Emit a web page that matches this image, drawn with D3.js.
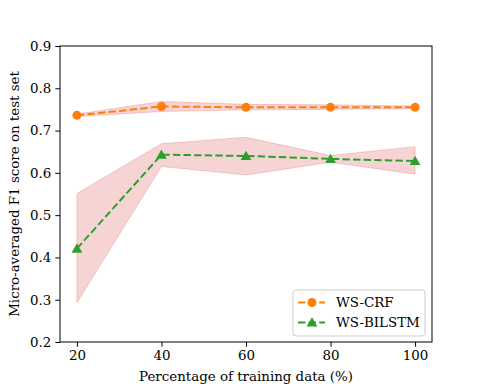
<!DOCTYPE html>
<html>
<head>
<meta charset="utf-8">
<script src="https://cdn.jsdelivr.net/npm/d3@7"></script>
<style>
  body { margin: 0; background: #fff; }
  text { font-family: "DejaVu Serif", serif; }
</style>
</head>
<body>
<div id="chart"></div>
<script>
// data
var trainPct = [20, 40, 60, 80, 100];
var crfMean = [0.736, 0.757, 0.755, 0.755, 0.755];
var crfLow = [0.733, 0.745, 0.749, 0.750, 0.752];
var crfHigh = [0.739, 0.769, 0.762, 0.761, 0.758];
var lstmMean = [0.421, 0.643, 0.640, 0.633, 0.628];
var lstmLow = [0.293, 0.615, 0.595, 0.625, 0.597];
var lstmHigh = [0.551, 0.669, 0.684, 0.641, 0.662];
var yTicks = [0.2, 0.3, 0.4, 0.5, 0.6, 0.7, 0.8, 0.9];
var seriesNames = ["WS-CRF", "WS-BILSTM"];

var width = 480, height = 384;
var margin = {top: 46, right: 48, bottom: 42, left: 60};
var fontSize = 13.4;

var svg = d3.select("#chart").append("svg")
  .attr("width", width)
  .attr("height", height);

var xScale = d3.scaleLinear()
  .domain([16, 104])
  .range([margin.left, width - margin.right]);

var yScale = d3.scaleLinear()
  .domain([0.2, 0.9])
  .range([height - margin.bottom, margin.top]);

function rows(mean, lo, hi) {
  return trainPct.map((x, i) => {
    return {x: x, y: mean[i], lo: lo[i], hi: hi[i]};
  });
}
var crf = rows(crfMean, crfLow, crfHigh);
var lstm = rows(lstmMean, lstmLow, lstmHigh);

var area = d3.area()
  .x((d) => xScale(d.x))
  .y0((d) => yScale(d.lo))
  .y1((d) => yScale(d.hi));

var line = d3.line()
  .x((d) => xScale(d.x))
  .y((d) => yScale(d.y));

[crf, lstm].forEach((s) => {
  svg.append("path")
    .datum(s)
    .attr("d", area)
    .attr("fill", "#d62728")
    .attr("fill-opacity", 0.2)
    .attr("stroke", "#d62728")
    .attr("stroke-opacity", 0.2)
    .attr("stroke-width", 1);
});

var colors = ["#ff7f0e", "#2ca02c"];
var tri = d3.symbol().type(d3.symbolTriangle).size(50);

[crf, lstm].forEach((s, k) => {
  svg.append("path")
    .datum(s)
    .attr("d", line)
    .attr("fill", "none")
    .attr("stroke", colors[k])
    .attr("stroke-width", 2)
    .attr("stroke-dasharray", "7.4,3.2");

  if (k === 0) {
    svg.selectAll(".dot")
      .data(s)
      .enter()
      .append("circle")
      .attr("class", "dot")
      .attr("cx", (d) => xScale(d.x))
      .attr("cy", (d) => yScale(d.y))
      .attr("r", 4.5)
      .attr("fill", colors[k]);
  } else {
    svg.selectAll(".tri")
      .data(s)
      .enter()
      .append("path")
      .attr("class", "tri")
      .attr("d", tri)
      .attr("transform", (d) => "translate(" + xScale(d.x) + "," + (yScale(d.y) + 1) + ")")
      .attr("fill", colors[k]);
  }
});

// axes
var xAxis = d3.axisBottom(xScale)
  .tickValues(trainPct)
  .tickSize(4.7)
  .tickPadding(4)
  .tickFormat((d) => "" + d);

var yAxis = d3.axisLeft(yScale)
  .tickValues(yTicks)
  .tickSize(4.7)
  .tickPadding(4)
  .tickFormat(d3.format(".1f"));

var gx = svg.append("g")
  .attr("transform", "translate(0," + (height - margin.bottom) + ")")
  .call(xAxis);
var gy = svg.append("g")
  .attr("transform", "translate(" + margin.left + ",0)")
  .call(yAxis);

[gx, gy].forEach((g) => {
  g.select(".domain").remove();
  g.selectAll("text")
    .attr("font-family", "DejaVu Serif")
    .attr("font-size", fontSize)
    .attr("fill", "#000");
  g.selectAll("line").attr("stroke", "#000");
});

// frame
svg.append("rect")
  .attr("x", margin.left)
  .attr("y", margin.top)
  .attr("width", width - margin.left - margin.right)
  .attr("height", height - margin.top - margin.bottom)
  .attr("fill", "none")
  .attr("stroke", "#000")
  .attr("stroke-width", 1);

svg.append("text")
  .text("Percentage of training data (%)")
  .attr("x", (margin.left + width - margin.right) / 2)
  .attr("y", 381)
  .attr("text-anchor", "middle")
  .attr("font-size", fontSize);

svg.append("text")
  .text("Micro-averaged F1 score on test set")
  .attr("transform", "rotate(-90)")
  .attr("x", -(margin.top + height - margin.bottom) / 2)
  .attr("y", 19)
  .attr("text-anchor", "middle")
  .attr("font-size", fontSize);

// legend
var legend = svg.append("g")
  .attr("transform", "translate(293,290)");

legend.append("rect")
  .attr("width", 132)
  .attr("height", 46)
  .attr("rx", 3)
  .attr("fill", "#fff")
  .attr("fill-opacity", 0.8)
  .attr("stroke", "#ccc");

seriesNames.forEach((name, i) => {
  var yy = 12.5 + 20 * i;
  legend.append("line")
    .attr("x1", 5).attr("x2", 32)
    .attr("y1", yy).attr("y2", yy)
    .attr("stroke", colors[i])
    .attr("stroke-width", 2)
    .attr("stroke-dasharray", "7.4,3.2");
  if (i === 0) {
    legend.append("circle")
      .attr("cx", 19).attr("cy", yy)
      .attr("r", 4.5)
      .attr("fill", colors[i]);
  } else {
    legend.append("path")
      .attr("d", tri)
      .attr("transform", "translate(19," + (yy + 1) + ")")
      .attr("fill", colors[i]);
  }
  legend.append("text")
    .text(name)
    .attr("x", 43)
    .attr("y", yy + 4.7)
    .attr("font-size", fontSize);
});
</script>
</body>
</html>
